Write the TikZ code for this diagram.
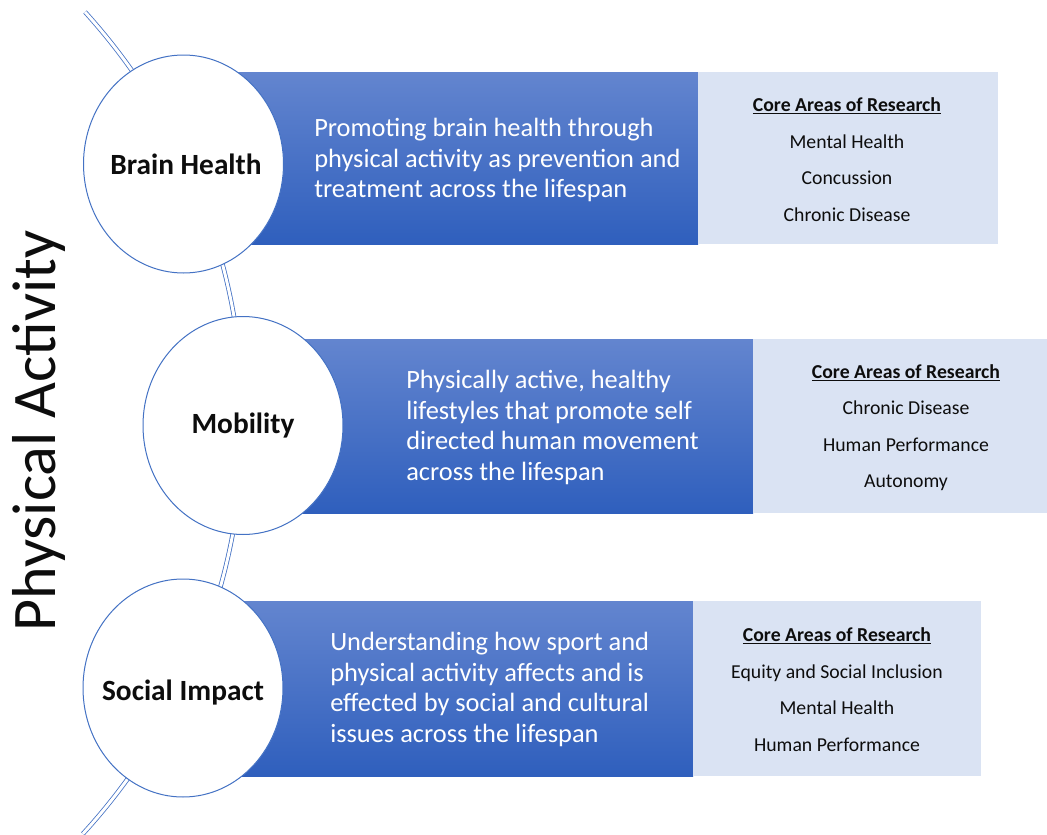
\documentclass[tikz,border=0pt]{standalone}
\usepackage{fontspec}
\setmainfont{Carlito}
\usetikzlibrary{shapes.geometric}
\definecolor{accent}{RGB}{68,114,196}
\definecolor{bandtop}{RGB}{99,133,207}
\definecolor{bandbot}{RGB}{47,95,189}
\definecolor{pale}{RGB}{218,227,243}
\definecolor{ink}{RGB}{13,13,13}
\begin{document}
\begin{tikzpicture}[x=0.75pt,y=-0.75pt,
  band/.style={rectangle, inner sep=0pt, draw=none, top color=bandtop, bottom color=bandbot},
  panel/.style={rectangle, inner sep=0pt, draw=none, fill=pale},
  hub/.style={ellipse, draw=accent, line width=0.75pt, fill=white, inner sep=0pt,
    minimum width=200*0.75pt, minimum height=218*0.75pt},
  hublabel/.style={inner sep=0pt, text=ink, font=\fontsize{22}{26}\selectfont\bfseries},
  blurb/.style={anchor=west, align=left, inner sep=0pt, text=white,
    font=\fontsize{19.8}{23}\selectfont},
  areas/.style={align=center, inner sep=0pt, text=ink,
    font=\fontsize{14.8}{27.4}\selectfont},
  spine/.style={draw=accent, line width=0.6pt, double=white, double distance=2.2pt}
]
\useasboundingbox (0,0) rectangle (1047,835);

% background bands and research panels
\node[band,  minimum width=515*0.75pt, minimum height=172*0.75pt] (band1)  at (440.5,158) {};
\node[panel, minimum width=300*0.75pt, minimum height=172*0.75pt] (panel1) at (848,158) {};
\node[band,  minimum width=510*0.75pt, minimum height=174*0.75pt] (band2)  at (498,426) {};
\node[panel, minimum width=294*0.75pt, minimum height=174*0.75pt] (panel2) at (900,426) {};
\node[band,  minimum width=510*0.75pt, minimum height=175*0.75pt] (band3)  at (438,688.5) {};
\node[panel, minimum width=288*0.75pt, minimum height=175*0.75pt] (panel3) at (837,688.5) {};

% curved spine behind the hubs
\coordinate (spinetop) at (85,12);
\draw[spine] (spinetop) arc[start angle=-42.2, end angle=42.5, radius=610];

% hubs and their titles
\node[hub] (brain)  at (183.5,164) {};
\node[hub] (mob)    at (243,425.5) {};
\node[hub] (social) at (183,688)   {};
\node[hublabel] (brainlabel)  at (186,164)   {Brain Health};
\node[hublabel] (moblabel)    at (243,425.5) {Mobility};
\node[hublabel] (sociallabel) at (183,693)   {Social Impact};

% descriptions
\node[blurb] (d1) at (314,160) {Promoting brain health through\\physical activity as prevention and\\treatment across the lifespan};
\node[blurb] (d2) at (406,427.5) {Physically active, healthy\\lifestyles that promote self\\directed human movement\\across the lifespan};
\node[blurb] (d3) at (330,689.5) {Understanding how sport and\\physical activity affects and is\\effected by social and cultural\\issues across the lifespan};

% research areas
\node[areas] (a1) at (847,159.5) {\underline{\textbf{Core Areas of Research}}\\Mental Health\\Concussion\\Chronic Disease};
\node[areas] (a2) at (906,427.5) {\underline{\textbf{Core Areas of Research}}\\Chronic Disease\\Human Performance\\Autonomy};
\node[areas] (a3) at (837,689.5) {\underline{\textbf{Core Areas of Research}}\\Equity and Social Inclusion\\Mental Health\\Human Performance};

% vertical title
\node[rotate=90, inner sep=0pt, text=ink, font=\fontsize{46.5}{50}\selectfont] (title) at (39,431) {Physical Activity};
\end{tikzpicture}
\end{document}
